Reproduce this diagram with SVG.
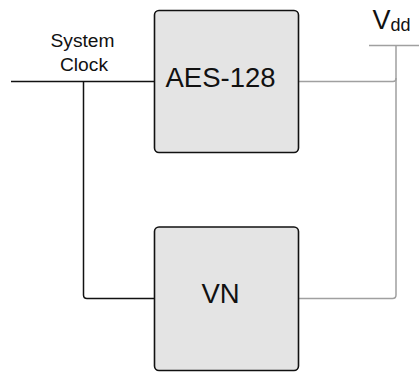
<svg xmlns="http://www.w3.org/2000/svg" width="419" height="372" viewBox="0 0 419 372">
<style>
.box{fill:#e4e4e4;stroke:#111;stroke-width:1.6}
.lbl{font-family:"Liberation Sans",Arial,sans-serif;fill:#111}
.big{font-size:27.5px}
.clk{fill:none;stroke:#111;stroke-width:1.5}
.pwr{fill:none;stroke:#a0a0a0;stroke-width:1.5}
</style>
<rect width="419" height="372" fill="#fff"/>
<g id="connectors">
<path class="clk" d="M11 81.5 H154"/>
<path class="clk" d="M83.5 81.5 V295 q0 3.5 3.5 3.5 H154"/>
<path class="pwr" d="M369 45.5 H419"/>
<path class="pwr" d="M299 81.5 H393 q3 0 3 -3 V45.5"/>
<path class="pwr" d="M396 78 V295 q0 3.5 -3.5 3.5 H299"/>
</g>
<g id="system-clock">
<text class="lbl" x="82.5" y="46.5" font-size="19.2" text-anchor="middle">System</text>
<text class="lbl" x="84" y="70.5" font-size="19.2" text-anchor="middle">Clock</text>
</g>
<g id="vdd">
<text class="lbl" x="372.5" y="29" font-size="27">V<tspan font-size="18" dy="2">dd</tspan></text>
</g>
<g id="aes">
<rect class="box" x="154.5" y="10.5" width="144" height="142" rx="4.5"/>
<text class="lbl big" x="220.5" y="86.5" text-anchor="middle">AES-128</text>
</g>
<g id="vn">
<rect class="box" x="154.5" y="227" width="144" height="143.5" rx="4.5"/>
<text class="lbl big" x="220.5" y="303.3" text-anchor="middle">VN</text>
</g>
</svg>
